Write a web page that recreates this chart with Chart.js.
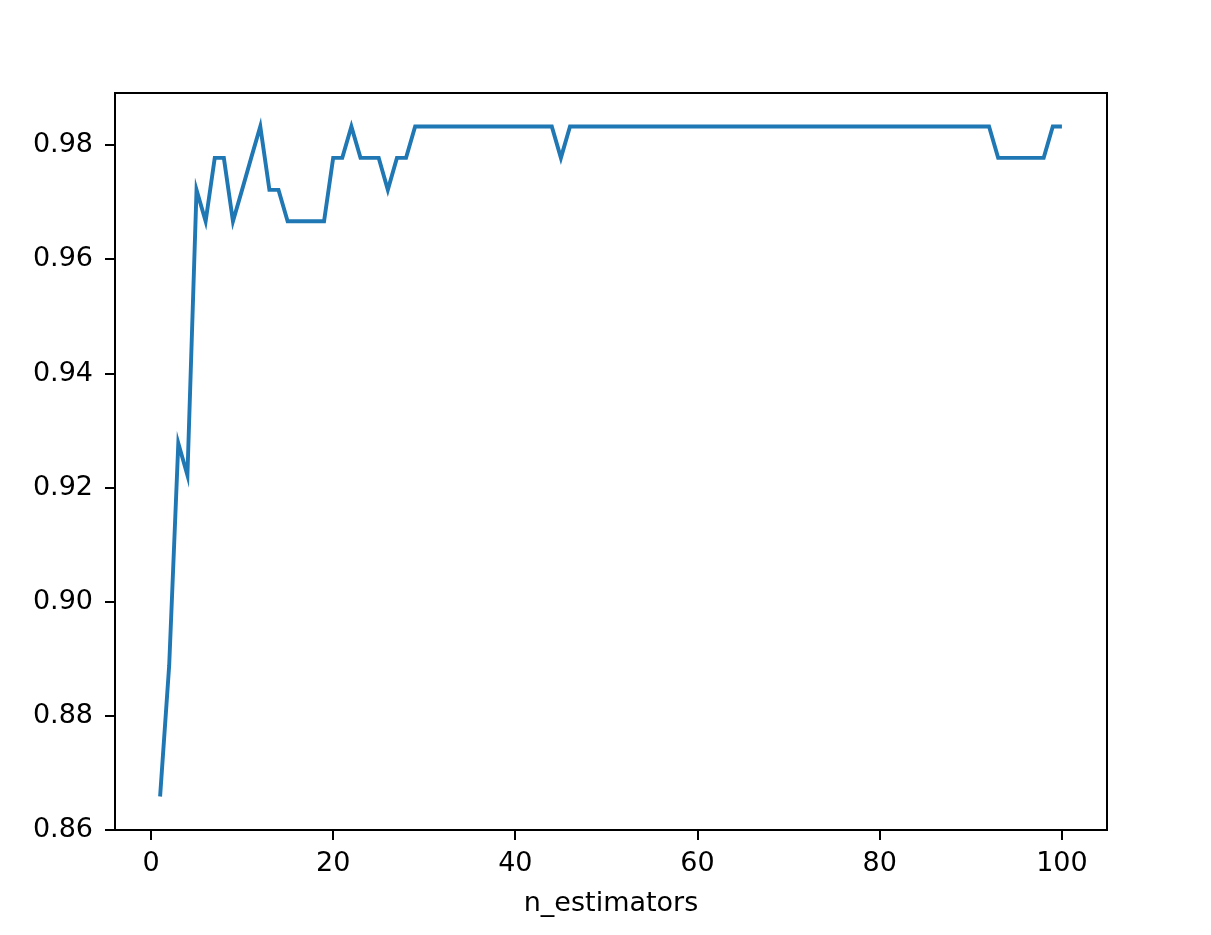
<!DOCTYPE html>
<html>
<head>
<meta charset="utf-8">
<script src="https://cdn.jsdelivr.net/npm/chart.js@4"></script>
<style>
html,body{margin:0;padding:0;background:#fff;}
#wrap{width:1211px;height:935px;}
</style>
</head>
<body>
<div id="wrap"><canvas id="c" width="1211" height="935"></canvas></div>
<script>
const nEstimators = [1,2,3,4,5,6,7,8,9,10,11,12,13,14,15,16,17,18,19,20,
21,22,23,24,25,26,27,28,29,30,31,32,33,34,35,36,37,38,39,40,
41,42,43,44,45,46,47,48,49,50,51,52,53,54,55,56,57,58,59,60,
61,62,63,64,65,66,67,68,69,70,71,72,73,74,75,76,77,78,79,80,
81,82,83,84,85,86,87,88,89,90,91,92,93,94,95,96,97,98,99,100];
const scores = [
0.8659,0.8889,0.9278,0.9222,0.9722,0.9667,0.9778,0.9778,0.9667,0.9722,
0.9778,0.9833,0.9722,0.9722,0.9667,0.9667,0.9667,0.9667,0.9667,0.9778,
0.9778,0.9833,0.9778,0.9778,0.9778,0.9722,0.9778,0.9778,0.9833,0.9833,
0.9833,0.9833,0.9833,0.9833,0.9833,0.9833,0.9833,0.9833,0.9833,0.9833,
0.9833,0.9833,0.9833,0.9833,0.9778,0.9833,0.9833,0.9833,0.9833,0.9833,
0.9833,0.9833,0.9833,0.9833,0.9833,0.9833,0.9833,0.9833,0.9833,0.9833,
0.9833,0.9833,0.9833,0.9833,0.9833,0.9833,0.9833,0.9833,0.9833,0.9833,
0.9833,0.9833,0.9833,0.9833,0.9833,0.9833,0.9833,0.9833,0.9833,0.9833,
0.9833,0.9833,0.9833,0.9833,0.9833,0.9833,0.9833,0.9833,0.9833,0.9833,
0.9833,0.9833,0.9778,0.9778,0.9778,0.9778,0.9778,0.9778,0.9833,0.9833];
const xTicks = [0,20,40,60,80,100];
const yTicks = [0.86,0.88,0.90,0.92,0.94,0.96,0.98];
const xLabel = 'n_estimators';

const FONT = {family:'"DejaVu Sans", sans-serif', size:27};

const framePlugin = {
  id:'frame',
  afterDraw(chart){
    const {ctx, chartArea:a} = chart;
    ctx.save();
    ctx.strokeStyle = '#000';
    ctx.lineWidth = 2;
    ctx.strokeRect(a.left, a.top, a.right - a.left, a.bottom - a.top);
    ctx.restore();
  }
};

new Chart(document.getElementById('c'), {
  type:'line',
  data:{
    datasets:[{
      data: nEstimators.map((x,i)=>({x:x, y:scores[i]})),
      borderColor:'#1f77b4',
      borderWidth:3.9,
      pointRadius:0,
      tension:0,
      fill:false
    }]
  },
  options:{
    responsive:false,
    animation:false,
    devicePixelRatio:1,
    layout:{padding:{left:0, top:93, right:104, bottom:0}},
    plugins:{legend:{display:false}, tooltip:{enabled:false}},
    scales:{
      x:{
        type:'linear',
        min:-3.95, max:104.95,
        afterBuildTicks(s){ s.ticks = xTicks.map(v=>({value:v})); },
        afterFit(s){ s.height = 105; },
        grid:{drawOnChartArea:false, drawTicks:true, tickLength:10, color:'#000', lineWidth:2},
        border:{display:false},
        ticks:{color:'#000', font:FONT, padding:8, maxRotation:0, autoSkip:false,
          callback:(v)=>String(v)},
        title:{display:true, text:xLabel, color:'#000', font:FONT, padding:{top:0,bottom:15}}
      },
      y:{
        type:'linear',
        min:0.86003, max:0.98917,
        afterBuildTicks(s){ s.ticks = yTicks.map(v=>({value:v})); },
        afterFit(s){ s.width = 115; },
        grid:{drawOnChartArea:false, drawTicks:true, tickLength:10, color:'#000', lineWidth:2},
        border:{display:false},
        ticks:{color:'#000', font:FONT, padding:12, autoSkip:false,
          callback:(v)=>v.toFixed(2)}
      }
    }
  },
  plugins:[framePlugin]
});
</script>
</body>
</html>
